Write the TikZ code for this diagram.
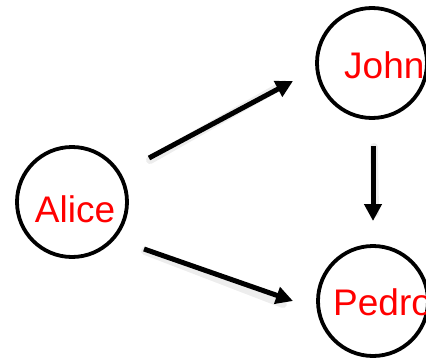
\documentclass[tikz,border=0pt]{standalone}
\usepackage{fontspec}
\setmainfont{Liberation Sans}
\usetikzlibrary{arrows.meta}
\begin{document}
\begin{tikzpicture}[x=1pt,y=1pt,
  person/.style={circle,draw=black,line width=3.8pt,minimum size=110pt,inner sep=0pt},
  nametext/.style={text=red,font=\fontsize{37}{40}\selectfont,inner sep=0pt},
  link/.style={line width=5pt,-{Triangle[length=17pt,width=17pt]}},
  linkshadow/.style={line width=8pt,black!7,line cap=round}
]
\useasboundingbox (0,0) rectangle (426,360);
\clip (0,0) rectangle (426,360);
\node[person] (alice) at (72,158) {};
\node[person] (john) at (372,297) {};
\node[person] (pedro) at (373,59) {};
\node[nametext,anchor=base] (alicet) at (75,138) {Alice};
\node[nametext,anchor=base west] (johnt) at (344,282) {John};
\node[nametext,anchor=base west] (pedrot) at (333,45) {Pedro};
% shadows
\draw[linkshadow] ([shift={(78pt,42pt)}]alice.center) -- ([shift={(-88pt,-21pt)}]john.center);
\draw[linkshadow] ([shift={(73pt,-49pt)}]alice.center) -- ([shift={(-90pt,-3pt)}]pedro.center);
\draw[linkshadow] ([shift={(2pt,-84pt)}]john.center) -- ([shift={(2pt,88pt)}]pedro.center);
% arrows
\draw[link] ([shift={(77pt,44pt)}]alice.center) -- ([shift={(-79pt,-18pt)}]john.center);
\draw[link] ([shift={(72pt,-47pt)}]alice.center) -- ([shift={(-80pt,0pt)}]pedro.center);
\draw[link] ([shift={(1pt,-83pt)}]john.center) -- ([shift={(0pt,80pt)}]pedro.center);
\end{tikzpicture}
\end{document}
